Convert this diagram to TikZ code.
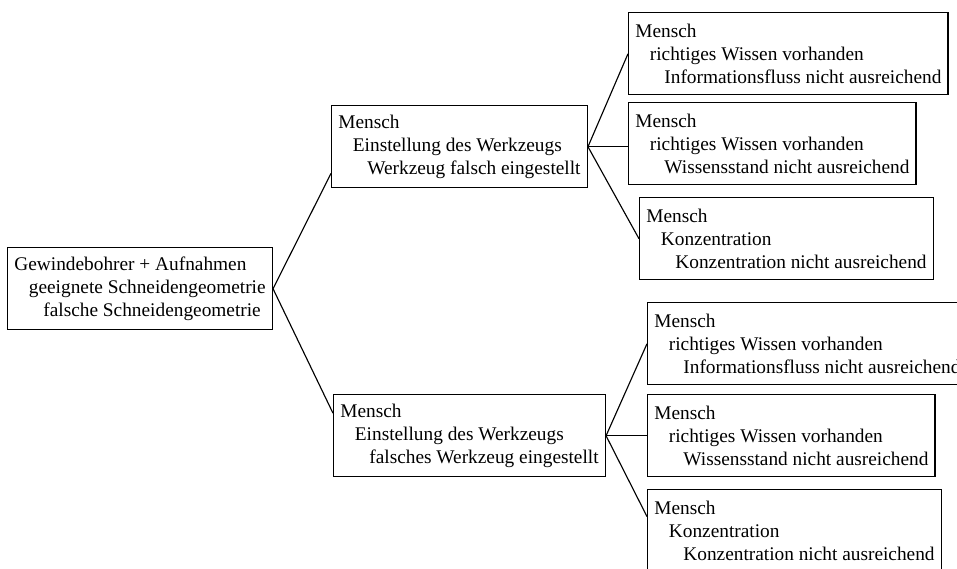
\documentclass[tikz,border=0pt]{standalone}
\usepackage{fontspec}
\setmainfont{Liberation Serif}
\usepackage{tikz}
\usetikzlibrary{positioning, calc}

\newcommand{\indI}{\hspace*{0.75em}}
\newcommand{\indII}{\hspace*{1.5em}}

\begin{document}
\begin{tikzpicture}[
  x=0.75pt, y=-0.75pt,
  ursache/.style = {rectangle, draw=black, line width=1.1pt, anchor=north west,
                    align=left, inner xsep=5pt, inner ysep=2pt,
                    minimum height=61.5pt,
                    font=\fontsize{14.5pt}{17.25pt}\selectfont},
  link/.style    = {line width=0.85pt},
]
\useasboundingbox (0,0) rectangle (957,568);

%% ── Wurzel ───────────────────────────────────────────────────────────────
\node[ursache] (root) at (7,247)  {Gewindebohrer + Aufnahmen\\
                                   \indI geeignete Schneidengeometrie\\
                                   \indII falsche Schneidengeometrie};

%% ── Zweite Ebene ─────────────────────────────────────────────────────────
\node[ursache] (einA) at (331,105) {Mensch\\
                                    \indI Einstellung des Werkzeugs\\
                                    \indII Werkzeug falsch eingestellt};
\node[ursache] (einB) at (333,394) {Mensch\\
                                    \indI Einstellung des Werkzeugs\\
                                    \indII falsches Werkzeug eingestellt};

%% ── Dritte Ebene, oberer Ast ─────────────────────────────────────────────
\node[ursache] (infoA) at (628,12)  {Mensch\\
                                     \indI richtiges Wissen vorhanden\\
                                     \indII Informationsfluss nicht ausreichend};
\node[ursache] (wissA) at (628,102) {Mensch\\
                                     \indI richtiges Wissen vorhanden\\
                                     \indII Wissensstand nicht ausreichend};
\node[ursache] (konzA) at (639,197) {Mensch\\
                                     \indI Konzentration\\
                                     \indII Konzentration nicht ausreichend};

%% ── Dritte Ebene, unterer Ast ────────────────────────────────────────────
\node[ursache] (infoB) at (647,302) {Mensch\\
                                     \indI richtiges Wissen vorhanden\\
                                     \indII Informationsfluss nicht ausreichend};
\node[ursache] (wissB) at (647,394) {Mensch\\
                                     \indI richtiges Wissen vorhanden\\
                                     \indII Wissensstand nicht ausreichend};
\node[ursache] (konzB) at (647,489) {Mensch\\
                                     \indI Konzentration\\
                                     \indII Konzentration nicht ausreichend};

%% ── Verbindungen ─────────────────────────────────────────────────────────
\draw[link] (root.east) -- ($(einA.north west)!0.82!(einA.south west)$);
\draw[link] (root.east) -- ($(einB.north west)!0.23!(einB.south west)$);
\draw[link] (einA.east) -- (infoA.west);
\draw[link] (einA.east) -- (einA.east -| wissA.west);
\draw[link] (einA.east) -- (konzA.west);
\draw[link] (einB.east) -- (infoB.west);
\draw[link] (einB.east) -- (einB.east -| wissB.west);
\draw[link] (einB.east) -- ($(konzB.north west)!0.33!(konzB.south west)$);

\end{tikzpicture}
\end{document}
